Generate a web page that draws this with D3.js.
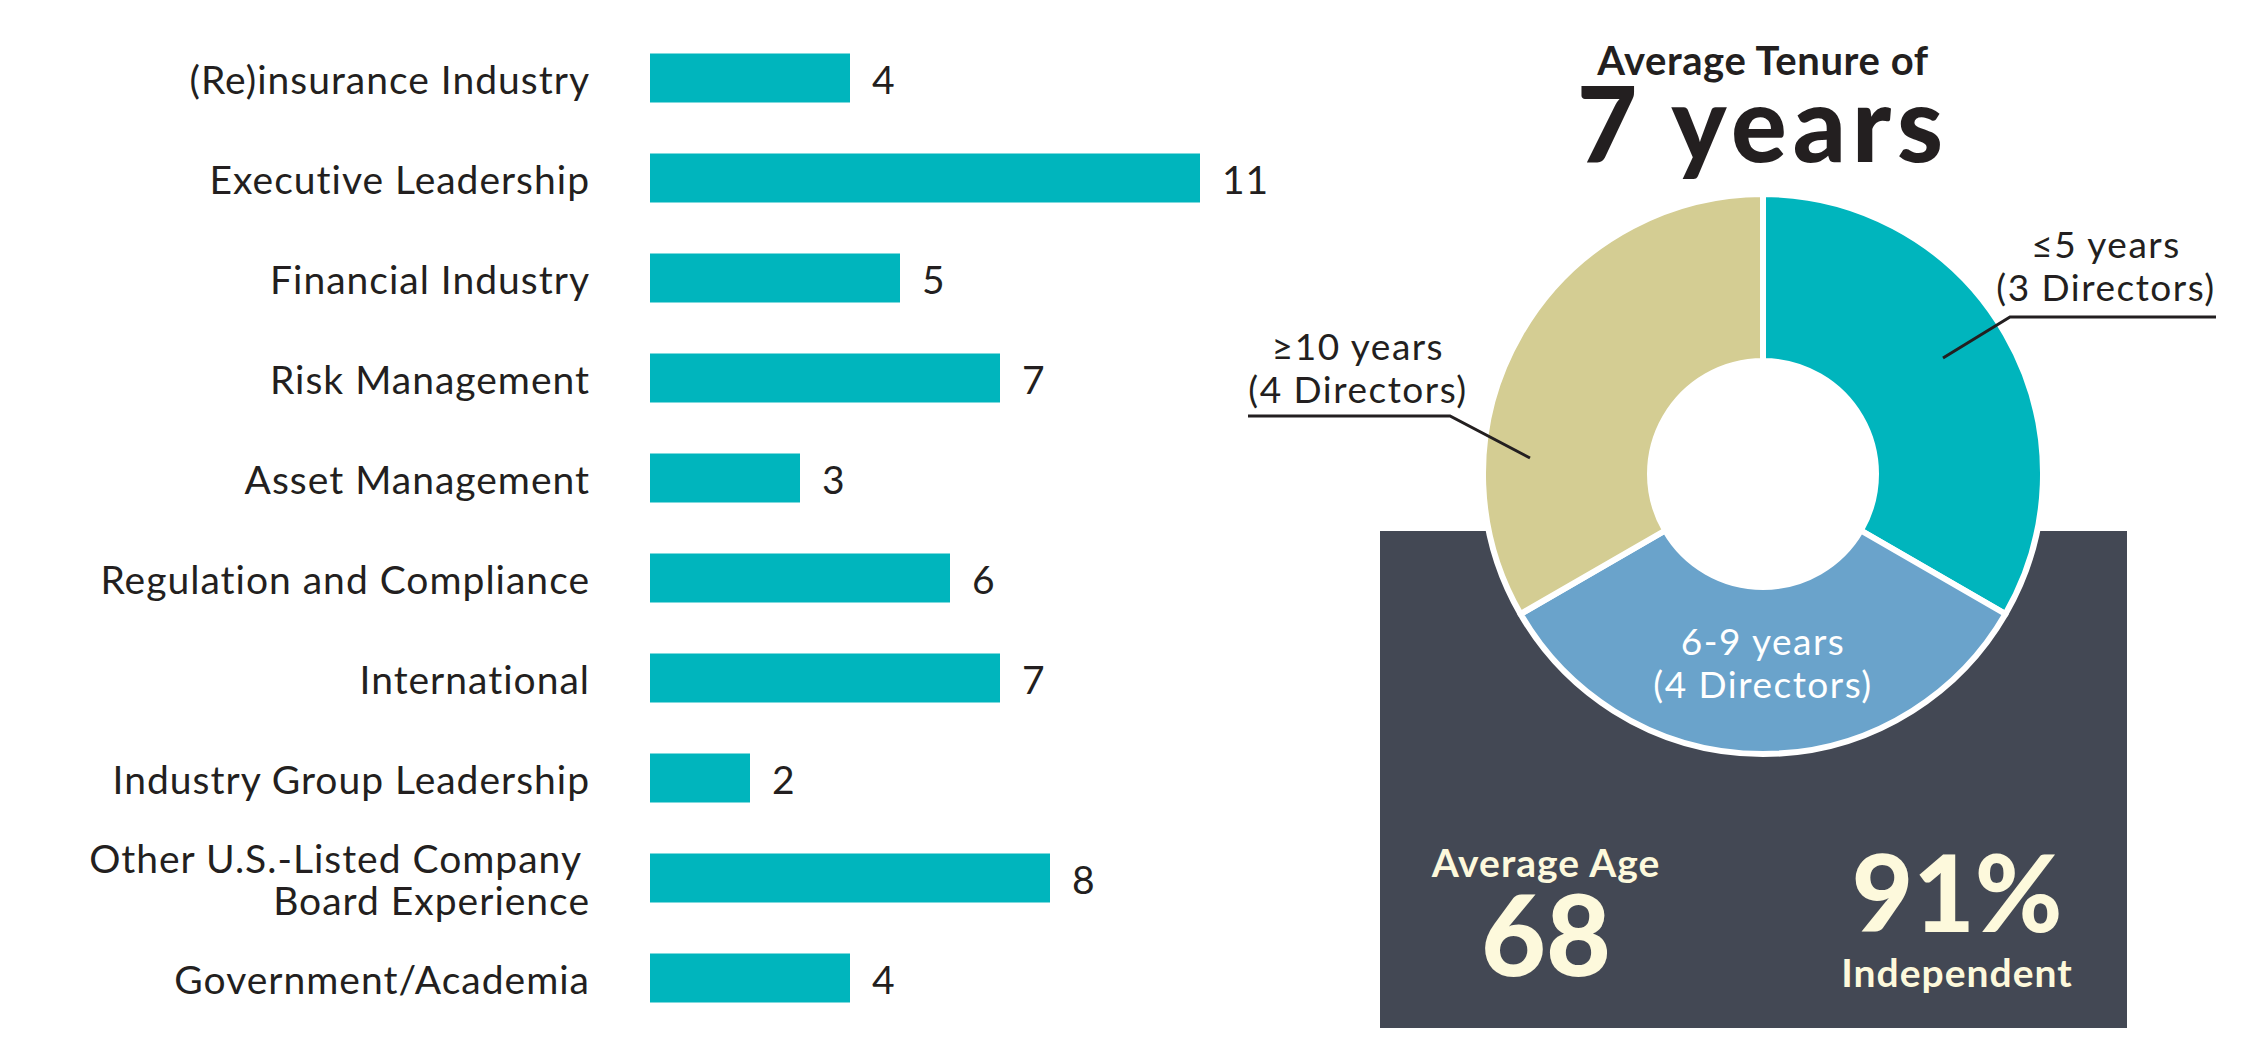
<!DOCTYPE html>
<html>
<head>
<meta charset="utf-8">
<script src="https://cdn.jsdelivr.net/npm/d3@7"></script>
<style>
  html, body { margin: 0; padding: 0; background: #fff; }
  svg { display: block; font-family: Lato, "Open Sans", sans-serif; }
</style>
</head>
<body>
<div id="chart"></div>
<script>
// Board skills (number of directors)
const skillLabels = [
  '(Re)insurance Industry',
  'Executive Leadership',
  'Financial Industry',
  'Risk Management',
  'Asset Management',
  'Regulation and Compliance',
  'International',
  'Industry Group Leadership',
  'Other U.S.-Listed Company\nBoard Experience',
  'Government/Academia'
];
const skillCounts = [4, 11, 5, 7, 3, 6, 7, 2, 8, 4];

// Tenure donut
const tenureRanges = ['≤5 years', '6-9 years', '≥10 years'];
const tenureDirectors = [3, 4, 4];
const tenureShare = [33.3, 33.3, 33.3]; // share of the ring as drawn
const tenureColors = ['#00b5bd', '#6aa3cb', '#d4cd93'];

// Headline stats
const avgTenure = 7;
const avgAge = 68;
const independentPct = 91;

const W = 2250, H = 1050;
const ink = '#231f20', cream = '#fdf9dc', slate = '#434854';

const svg = d3.select('#chart').append('svg')
  .attr('width', W)
  .attr('height', H);

svg.append('rect').attr('width', W).attr('height', H).attr('fill', '#fff');

// ---- bar chart ----
const x = d3.scaleLinear().domain([0, 11]).range([650, 1200]);
const y = d3.scaleBand()
  .domain(skillLabels)
  .range([28, 1028])
  .paddingInner(0.51)
  .paddingOuter(0.255);

const rows = svg.append('g').selectAll('g')
  .data(skillLabels.map((l, i) => ({ label: l, value: skillCounts[i] })))
  .join('g');

rows.append('rect')
  .attr('x', x(0))
  .attr('y', d => y(d.label))
  .attr('width', d => x(d.value) - x(0))
  .attr('height', y.bandwidth())
  .attr('fill', '#00b5bd');

rows.append('text')
  .attr('x', d => x(d.value) + 22)
  .attr('y', d => y(d.label) + y.bandwidth() / 2)
  .attr('dy', '0.42em')
  .attr('font-size', 39)
  .attr('letter-spacing', 1)
  .attr('fill', ink)
  .text(d => d.value);

rows.each(function(d) {
  const lines = d.label.split('\n');
  const mid = y(d.label) + y.bandwidth() / 2;
  const lh = 42;
  const t = d3.select(this).append('text')
    .attr('text-anchor', 'end')
    .attr('font-size', 39)
    .attr('letter-spacing', 1)
    .attr('fill', ink);
  lines.forEach((ln, i) => {
    t.append('tspan')
      .attr('x', i === 0 && lines.length > 1 ? 582 : 590)
      .attr('y', mid + (i - (lines.length - 1) / 2) * lh)
      .attr('dy', '0.42em')
      .text(ln);
  });
});

// ---- stats box ----
svg.append('rect')
  .attr('x', 1380).attr('y', 531)
  .attr('width', 747).attr('height', 497)
  .attr('fill', slate);

// ---- donut ----
const cx = 1763, cy = 474;
const pie = d3.pie().sort(null).value(d => d.share);
const arc = d3.arc().innerRadius(113).outerRadius(280);
const tenure = tenureRanges.map((r, i) => ({
  range: r, directors: tenureDirectors[i], share: tenureShare[i], color: tenureColors[i]
}));

const donut = svg.append('g').attr('transform', `translate(${cx},${cy})`);
// white hole so the box doesn't show through
donut.append('circle').attr('r', 116).attr('fill', '#fff');
donut.selectAll('path')
  .data(pie(tenure))
  .join('path')
  .attr('d', arc)
  .attr('fill', d => d.data.color)
  .attr('stroke', '#fff')
  .attr('stroke-width', 6)
  .attr('stroke-linejoin', 'round');

// slice labels (offsets from donut centre)
const callouts = [
  { tx: 343, ty: -216, line: [[453, -157], [247, -157], [180, -116]], fill: ink },
  { tx: 0, ty: 181, line: null, fill: '#fff' },
  { tx: -405, ty: -114, line: [[-515, -58], [-313, -58], [-233, -16]], fill: ink }
];

tenure.forEach((d, i) => {
  const c = callouts[i];
  const t = donut.append('text')
    .attr('text-anchor', 'middle')
    .attr('font-size', 37)
    .attr('letter-spacing', 1.5)
    .attr('fill', c.fill);
  [d.range, `(${d.directors} Directors)`].forEach((ln, j) => {
    t.append('tspan').attr('x', c.tx).attr('y', c.ty + j * 43).text(ln);
  });
  if (c.line) {
    donut.append('path')
      .attr('d', d3.line()(c.line))
      .attr('fill', 'none')
      .attr('stroke', ink)
      .attr('stroke-width', 3);
  }
});

// ---- headline text ----
svg.append('text')
  .attr('x', cx).attr('y', 75)
  .attr('text-anchor', 'middle')
  .attr('font-size', 40).attr('font-weight', 700)
  .attr('letter-spacing', 0.6)
  .attr('fill', ink)
  .text('Average Tenure of');

svg.append('text')
  .attr('x', cx).attr('y', 162)
  .attr('text-anchor', 'middle')
  .attr('font-size', 104).attr('font-weight', 900)
  .attr('letter-spacing', 6)
  .attr('fill', ink)
  .text(`${avgTenure} years`);

svg.append('text')
  .attr('x', 1546).attr('y', 877)
  .attr('text-anchor', 'middle')
  .attr('font-size', 39).attr('font-weight', 700)
  .attr('letter-spacing', 1)
  .attr('fill', cream)
  .text('Average Age');

svg.append('text')
  .attr('x', 1546).attr('y', 976)
  .attr('text-anchor', 'middle')
  .attr('font-size', 112).attr('font-weight', 900)
  .attr('fill', cream)
  .text(avgAge);

svg.append('text')
  .attr('x', 1957).attr('y', 932)
  .attr('text-anchor', 'middle')
  .attr('font-size', 106).attr('font-weight', 900)
  .attr('fill', cream)
  .text(`${independentPct}%`);

svg.append('text')
  .attr('x', 1957).attr('y', 987)
  .attr('text-anchor', 'middle')
  .attr('font-size', 39).attr('font-weight', 700)
  .attr('letter-spacing', 1)
  .attr('fill', cream)
  .text('Independent');
</script>
</body>
</html>
